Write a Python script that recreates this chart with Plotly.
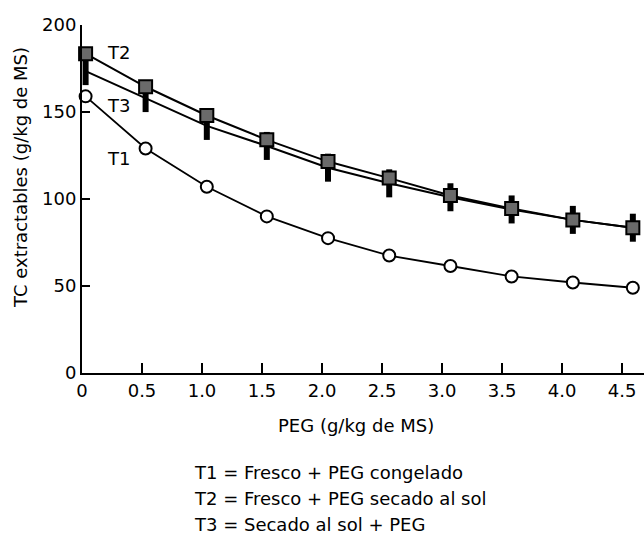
import plotly.graph_objects as go

peg = [0.03, 0.53, 1.04, 1.54, 2.05, 2.56, 3.07, 3.58, 4.09, 4.59]
t1 = [159, 129, 107, 90, 77.5, 67.5, 61.5, 55.5, 52, 49]
t2 = [183.5, 164.5, 148, 134, 121.5, 112, 102, 94.5, 88, 83.5]
t3 = [173.5, 158, 142, 130.5, 118, 109, 101, 94, 88, 83.5]

x_tickvals = [0, 0.5, 1.0, 1.5, 2.0, 2.5, 3.0, 3.5, 4.0, 4.5]
x_ticktext = ["0", "0.5", "1.0", "1.5", "2.0", "2.5", "3.0", "3.5", "4.0", "4.5"]
y_tickvals = [0, 50, 100, 150, 200]

series_labels = ["T1", "T2", "T3"]
legend_lines = ["T1 = Fresco + PEG congelado",
                "T2 = Fresco + PEG secado al sol",
                "T3 = Secado al sol + PEG"]

FONT = "DejaVu Sans, Arial, sans-serif"
FS = 18

W, H = 644, 537
L, R, T, B = 82, 0, 25, 164
pw, ph = W - L - R, H - T - B

fig = go.Figure()

fig.add_trace(go.Scatter(
    x=peg, y=t3, mode="lines+markers", name="T3",
    line=dict(color="black", width=2),
    marker=dict(symbol="line-ns", size=20, line=dict(color="black", width=6)),
    cliponaxis=False,
))
fig.add_trace(go.Scatter(
    x=peg, y=t2, mode="lines+markers", name="T2",
    line=dict(color="black", width=2),
    marker=dict(symbol="square", size=13, color="#6a6a6a", line=dict(color="black", width=2)),
    cliponaxis=False,
))
fig.add_trace(go.Scatter(
    x=peg, y=t1, mode="lines+markers", name="T1",
    line=dict(color="black", width=1.8),
    marker=dict(symbol="circle", size=12, color="white", line=dict(color="black", width=2)),
    cliponaxis=False,
))

label_pos = [
    dict(x=0.3, y=184, text=series_labels[1]),
    dict(x=0.3, y=154, text=series_labels[2]),
    dict(x=0.3, y=123, text=series_labels[0]),
]
annots = []
for a in label_pos:
    annots.append(dict(x=a["x"], y=a["y"], xref="x", yref="y", text=a["text"],
                       showarrow=False, xanchor="center", yanchor="middle",
                       font=dict(family=FONT, size=FS, color="black")))

for i, t in enumerate(legend_lines):
    annots.append(dict(x=(192 - L) / pw, y=(H - B - (472 + i * 26)) / ph,
                       xref="paper", yref="paper", text=t,
                       showarrow=False, xanchor="left", yanchor="middle",
                       font=dict(family=FONT, size=FS, color="black")))

annots.append(dict(x=(20 - L) / pw, y=(H - B - 178) / ph, xref="paper", yref="paper",
                   text="TC extractables (g/kg de MS)", textangle=-90, showarrow=False,
                   xanchor="center", yanchor="middle",
                   font=dict(family=FONT, size=FS, color="black")))
annots.append(dict(x=(356 - L) / pw, y=(H - B - 425) / ph, xref="paper", yref="paper",
                   text="PEG (g/kg de MS)", showarrow=False,
                   xanchor="center", yanchor="middle",
                   font=dict(family=FONT, size=FS, color="black")))

fig.update_layout(
    width=W, height=H,
    margin=dict(l=L, r=R, t=T, b=B, pad=0),
    paper_bgcolor="white", plot_bgcolor="white",
    showlegend=False,
    font=dict(family=FONT, size=FS, color="black"),
    annotations=annots,
    xaxis=dict(range=[0, 4.683], tickvals=x_tickvals, ticktext=x_ticktext,
               showline=True, linecolor="black", linewidth=2,
               ticks="inside", ticklen=10, tickwidth=2, tickcolor="black",
               showgrid=False, zeroline=False,
               tickfont=dict(family=FONT, size=FS, color="black")),
    yaxis=dict(range=[0, 200], tickvals=y_tickvals,
               showline=True, linecolor="black", linewidth=2,
               ticks="inside", ticklen=8, tickwidth=2, tickcolor="black",
               showgrid=False, zeroline=False,
               tickfont=dict(family=FONT, size=FS, color="black")),
)

fig.write_html("out.html")
